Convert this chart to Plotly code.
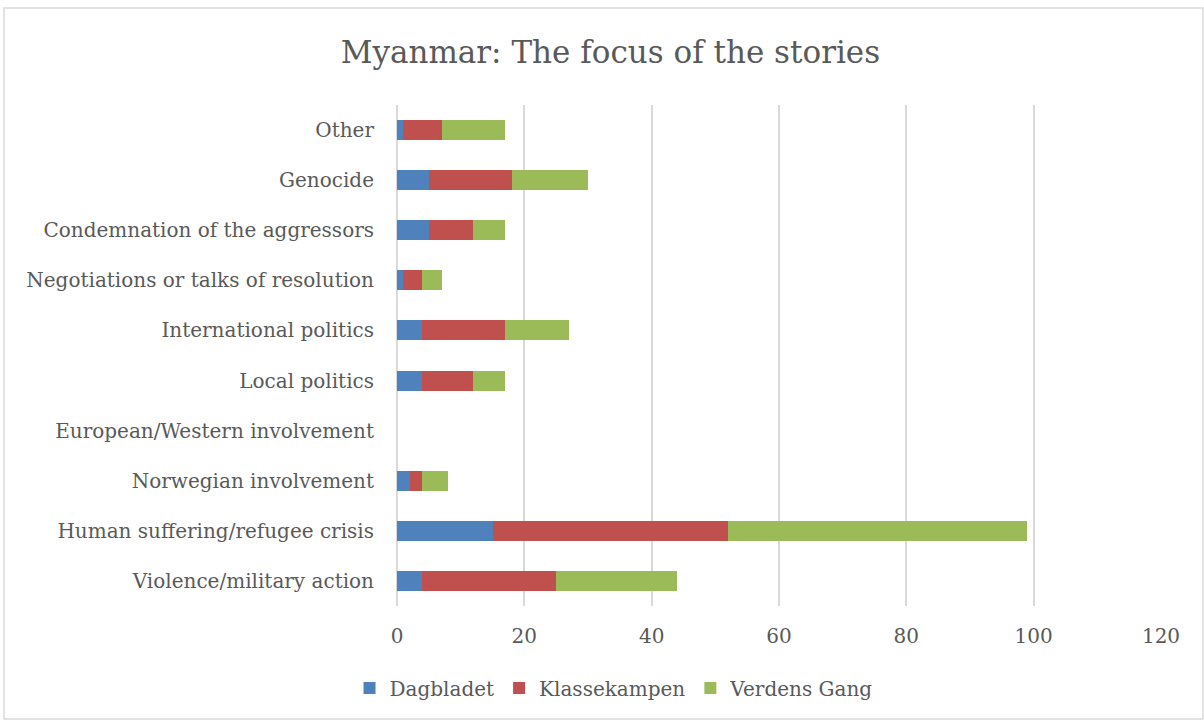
import plotly.graph_objects as go

categories = [
    "Violence/military action",
    "Human suffering/refugee crisis",
    "Norwegian involvement",
    "European/Western involvement",
    "Local politics",
    "International politics",
    "Negotiations or talks of resolution",
    "Condemnation of the aggressors",
    "Genocide",
    "Other",
]
dagbladet = [4, 15, 2, 0, 4, 4, 1, 5, 5, 1]
klassekampen = [21, 37, 2, 0, 8, 13, 3, 7, 13, 6]
verdens_gang = [19, 47, 4, 0, 5, 10, 3, 5, 12, 10]
x_ticks = [0, 20, 40, 60, 80, 100, 120]

FONT = "DejaVu Serif"
TXT = "#595959"

fig = go.Figure()
for name, vals, col in [
    ("Dagbladet", dagbladet, "#4F81BD"),
    ("Klassekampen", klassekampen, "#C0504D"),
    ("Verdens Gang", verdens_gang, "#9BBB59"),
]:
    fig.add_trace(go.Bar(y=categories, x=vals, name=name, orientation="h",
                         marker=dict(color=col, line=dict(width=0))))

W, H = 1204, 720
L, R, T, B = 397, 43, 105, 114
pw, ph = W - L - R, H - T - B

fig.update_layout(
    width=W, height=H,
    barmode="stack", bargap=0.6,
    margin=dict(l=L, r=R, t=T, b=B),
    plot_bgcolor="white", paper_bgcolor="white",
    font=dict(family=FONT, color=TXT, size=20),
    title=dict(text="Myanmar: The focus of the stories", x=0.507, xref="container",
               y=1 - 52 / H, yref="container", xanchor="center", yanchor="middle",
               font=dict(family=FONT, size=31, color=TXT)),
    xaxis=dict(range=[0, 120], tickvals=x_ticks, showgrid=True, gridcolor="#d9d9d9",
               gridwidth=1.5, zeroline=True, zerolinecolor="#d9d9d9", zerolinewidth=1.5,
               showline=False, ticks="", tickfont=dict(size=20, color=TXT),
               ticklabelstandoff=16),
    yaxis=dict(categoryorder="array", categoryarray=categories, showgrid=False,
               showline=False, ticks="", tickfont=dict(size=20, color=TXT),
               ticklabelstandoff=22, range=[-0.5, 9.5]),
    legend=dict(orientation="h", x=0.51, xref="container", xanchor="center",
                y=1 - 688 / H, yref="container", yanchor="middle",
                font=dict(size=20, color=TXT), itemwidth=30, traceorder="normal"),
)

# outer chart border
fig.add_shape(type="rect", xref="paper", yref="paper",
              x0=(4 - L) / pw, x1=(1203 - L) / pw,
              y0=-(H - 1 - T - ph) / ph, y1=1 + (T - 8) / ph,
              line=dict(color="#d9d9d9", width=1.5), fillcolor="rgba(0,0,0,0)", layer="below")

fig.write_html("out.html")
